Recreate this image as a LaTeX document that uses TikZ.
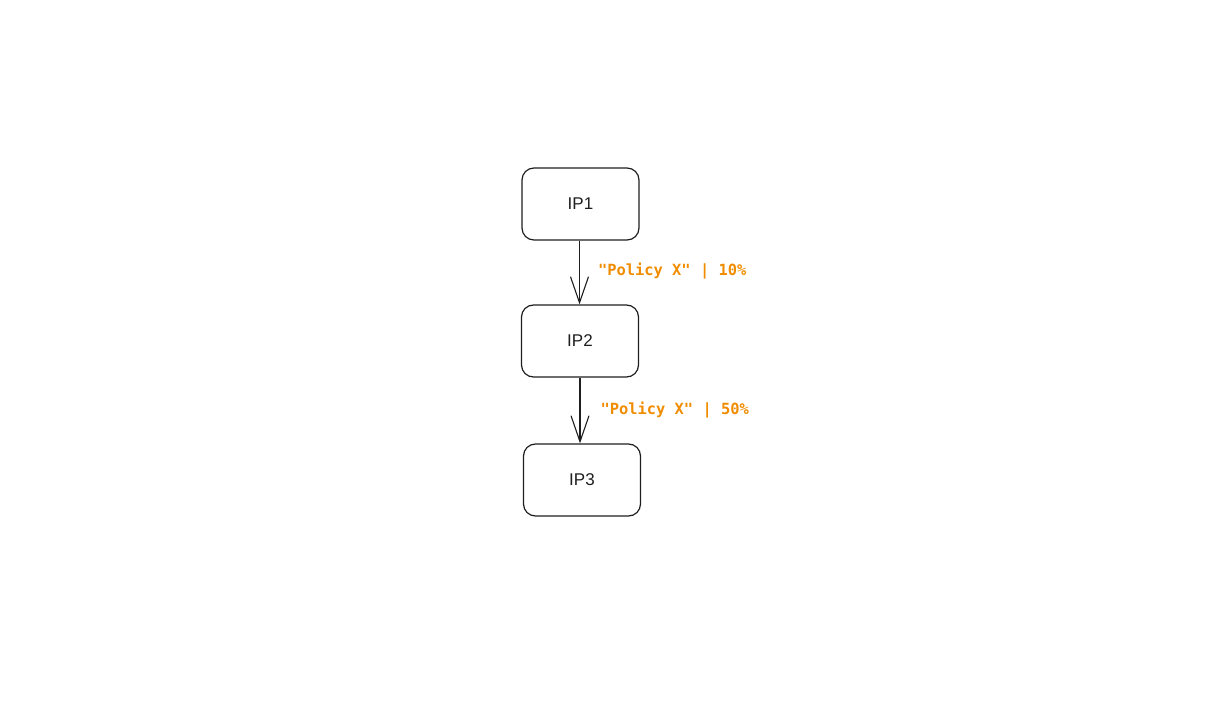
\documentclass[tikz,border=0pt]{standalone}
\usepackage{fontspec}
\setmainfont{Liberation Sans}
\setmonofont{DejaVu Sans Mono}
\usetikzlibrary{arrows.meta}
\definecolor{lbl}{HTML}{F08C00}
\definecolor{ink}{HTML}{1E1E1E}
\tikzset{
  ipbox/.style={draw=ink, line width=1.2pt, rounded corners=12pt, minimum width=117pt, minimum height=72pt, inner sep=0pt, font=\fontsize{17}{20}\selectfont, text=ink},
  flow/.style={draw=ink, line width=1.1pt, -{Straight Barb[length=26pt,width=18pt,line width=1.1pt]}},
  edgelbl/.style={text=lbl, font=\ttfamily\bfseries\fontsize{15.4}{18}\selectfont, anchor=west, inner sep=0pt}
}
\begin{document}
\begin{tikzpicture}[x=1pt,y=-1pt]
\useasboundingbox (0,0) rectangle (1216,714);
\node[ipbox] (ip1) at (580.5,204) {IP1};
\node[ipbox] (ip2) at (580,341) {IP2};
\node[ipbox] (ip3) at (582,480) {IP3};
\coordinate (a1) at ([xshift=-1pt]ip1.south);
\coordinate (a2) at ([xshift=-2pt]ip3.north);
\draw[flow] (a1) -- (a1 |- ip2.north) node[edgelbl, pos=0.48, xshift=18pt] (l1) {"Policy X" | 10\%};
\draw[flow] (ip2.south) -- (a2) node[edgelbl, pos=0.5, xshift=20pt] (l2) {"Policy X" | 50\%};
\end{tikzpicture}
\end{document}
